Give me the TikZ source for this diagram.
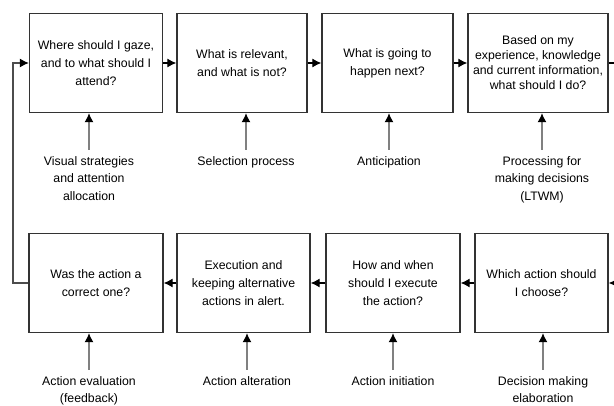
\documentclass[tikz,border=0pt]{standalone}
\usepackage{fontspec}
\setmainfont{Liberation Sans}
\usetikzlibrary{arrows.meta}
\tikzset{>={Latex[length=9pt,width=9pt]},
  stage/.style={draw=black!80, line width=1.3pt, minimum width=133pt, minimum height=99pt, align=center, inner sep=2pt,
    font=\fontsize{12.3}{18}\selectfont},
  cue/.style={align=center, inner sep=0pt, anchor=north, font=\fontsize{12.3}{17.5}\selectfont},
  flow/.style={line width=1.2pt, ->},
  hint/.style={line width=1.3pt, draw=black!50, -{Latex[length=9pt,width=9pt,black]}, shorten <=6pt}}

\begin{document}
\begin{tikzpicture}[x=1pt, y=-1pt]
\useasboundingbox (0,0) rectangle (614,406);

% upper row
\node[stage] (gaze) at (96,63) {Where should I gaze,\\ and to what should I\\ attend?};
\node[stage, minimum width=130pt] (relevant) at (242,63) {What is relevant,\\ and what is not?};
\node[stage, minimum width=131pt] (next) at (387.5,63) {What is going to\\ happen next?};
\node[stage, minimum width=140pt, font=\fontsize{12.3}{15}\selectfont] (todo) at (538,63) {Based on my\\ experience, knowledge\\ and current information,\\ what should I do?};

% lower row
\node[stage, minimum width=134pt] (correct) at (96,283) {Was the action a\\ correct one?};
\node[stage] (execution) at (243.5,283) {Execution and\\ keeping alternative\\ actions in alert.};
\node[stage, minimum width=134pt] (when) at (393,283) {How and when\\ should I execute\\ the action?};
\node[stage] (choose) at (541.5,283) {Which action should\\ I choose?};

% what feeds each stage
\node[cue] (visual) at (89,156) {Visual strategies\\ and attention\\ allocation};
\node[cue] (selection) at (246,156) {Selection process};
\node[cue] (anticip) at (389,156) {Anticipation};
\node[cue] (ltwm) at (542,156) {Processing for\\ making decisions\\ (LTWM)};
\node[cue] (evaluation) at (89,376) {Action evaluation\\ (feedback)};
\node[cue] (alteration) at (247,376) {Action alteration};
\node[cue] (initiation) at (393,376) {Action initiation};
\node[cue] (elaboration) at (543,376) {Decision making\\ elaboration};

\coordinate (edgeR) at (614,0);
\coordinate (backL) at (13,0);

\draw[flow] (gaze.east) -- (relevant.west);
\draw[flow] (relevant.east) -- (next.west);
\draw[flow] (next.east) -- (todo.west);
\draw[line width=1.2pt] (todo.east) -- (todo.east -| edgeR);
\draw[flow] (choose.east -| edgeR) -- (choose.east);
\draw[flow] (choose.west) -- (when.east);
\draw[flow] (when.west) -- (execution.east);
\draw[flow] (execution.west) -- (correct.east);
\draw[line width=1.2pt, draw=black!70, -{Latex[length=9pt,width=9pt,black]}] (correct.west) -- (backL |- correct.west) -- (backL |- gaze.west) -- (gaze.west);

\foreach \c/\s in {visual/gaze, selection/relevant, anticip/next, ltwm/todo,
  evaluation/correct, alteration/execution, initiation/when, elaboration/choose}
  \draw[hint] (\c.north) -- (\c.north |- \s.south);
\end{tikzpicture}
\end{document}
